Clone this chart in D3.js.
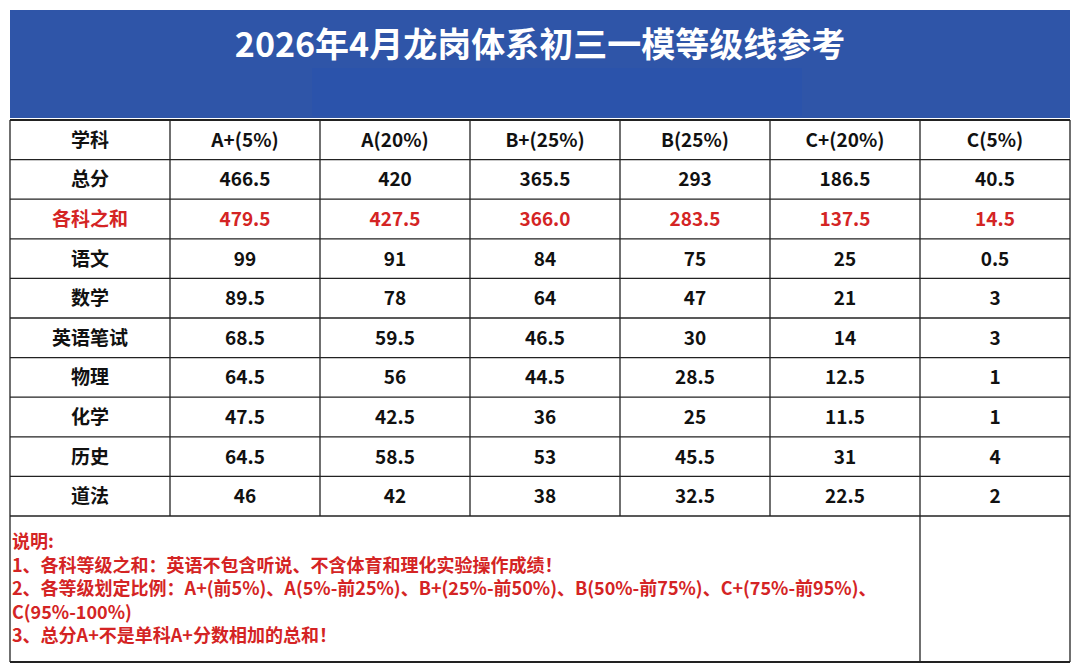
<!DOCTYPE html><html><head><meta charset="utf-8"><script src="https://cdn.jsdelivr.net/npm/d3@7"></script>
<style>body{margin:0;background:#fff}svg{display:block}text{font-family:"Noto Sans CJK SC","Noto Sans",sans-serif}</style></head><body><svg id="c" width="1080" height="672"></svg>
<script>
const title="2026年4月龙岗体系初三一模等级线参考";
const grades=["A+(5%)","A(20%)","B+(25%)","B(25%)","C+(20%)","C(5%)"];
const subjects=["总分","各科之和","语文","数学","英语笔试","物理","化学","历史","道法"];
const values=[
["466.5","420","365.5","293","186.5","40.5"],
["479.5","427.5","366.0","283.5","137.5","14.5"],
["99","91","84","75","25","0.5"],
["89.5","78","64","47","21","3"],
["68.5","59.5","46.5","30","14","3"],
["64.5","56","44.5","28.5","12.5","1"],
["47.5","42.5","36","25","11.5","1"],
["64.5","58.5","53","45.5","31","4"],
["46","42","38","32.5","22.5","2"]];
const notes=["说明:","1、各科等级之和：英语不包含听说、不含体育和理化实验操作成绩！","2、各等级划定比例：A+(前5%)、A(5%-前25%)、B+(25%-前50%)、B(50%-前75%)、C+(75%-前95%)、","C(95%-100%)","3、总分A+不是单科A+分数相加的总和！"];
const svg=d3.select("#c");
const L=10,R=1070,red="#d42424";
svg.append("rect").attr("x",L).attr("y",10).attr("width",R-L).attr("height",108).attr("fill","#2f55a8");
svg.append("rect").attr("x",312).attr("y",68).attr("width",490).attr("height",48).attr("fill","#2a52ab").attr("opacity",0.8);
svg.append("text").attr("x",540).attr("y",57).attr("text-anchor","middle").attr("fill","#fff").attr("font-size",34).attr("font-weight","bold").text(title);
const cols=["学科",...grades];
const x=d3.scaleLinear().domain([0,1]).range([170,320]);
const colL=i=>i===0?L:x(i-1);
const y=d3.scaleBand().domain(d3.range(10)).range([120,516]);
const g=svg.append("g");
const rows=[cols,...subjects.map((s,i)=>[s,...values[i]])];
rows.forEach((r,ri)=>{r.forEach((t,ci)=>{
  const cx=ci===0?(L+170)/2:x(ci-1)+75;
  g.append("text").attr("x",cx).attr("y",y(ri)+y.bandwidth()/2+7).attr("text-anchor","middle")
   .attr("font-size",19).attr("font-weight","bold").attr("fill",ri===2?red:"#111").text(t);
});});
const ln=(x1,y1,x2,y2,w)=>g.append("line").attr("x1",x1).attr("y1",y1).attr("x2",x2).attr("y2",y2).attr("stroke","#222").attr("stroke-width",w||1.3);
for(let i=0;i<10;i++)ln(L,y(i),R,y(i),i===0?2:1.3);
ln(L,516,R,516);
for(let c=0;c<=7;c++){const xx=c===7?R:colL(c);ln(xx,120,xx,(c===0||c>=6)?662:516);}
ln(L,662,R,662,2);
notes.forEach((n,i)=>svg.append("text").attr("x",12).attr("y",548+i*23.5).attr("font-size",18).attr("font-weight","bold").attr("fill",red).text(n));
</script></body></html>
